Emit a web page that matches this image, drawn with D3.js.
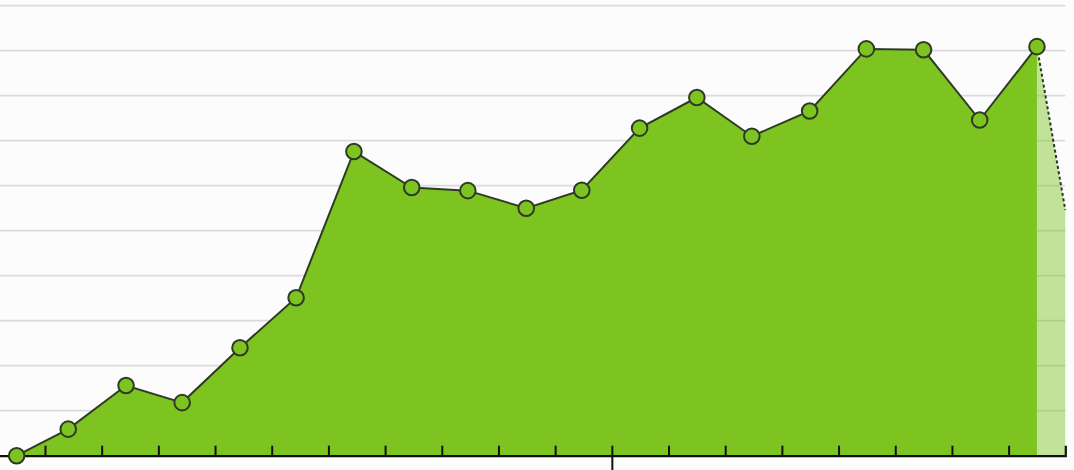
<!DOCTYPE html>
<html>
<head>
<meta charset="utf-8">
<script src="https://cdn.jsdelivr.net/npm/d3@7"></script>
<style>
    html, body { margin: 0; padding: 0; background: #fcfcfc; }
    svg { display: block; }
</style>
</head>
<body>
<div id="chart"></div>
<script>
// one value per period (gridline = 10 units)
const periods = ["P1", "P2", "P3", "P4", "P5", "P6", "P7", "P8", "P9", "P10",
                 "P11", "P12", "P13", "P14", "P15", "P16", "P17", "P18", "P19"];
// where each point sits along the period axis (the early ones fall a bit left of centre)
const positions = [0, 0.91, 1.93, 2.92, 3.94, 4.93, 5.95, 6.97, 7.96, 8.99,
                   9.97, 10.99, 12.0, 12.97, 13.99, 14.99, 16.0, 16.99, 18.0];
const values = [0, 5.9, 15.6, 11.8, 24.0, 35.1, 67.6, 59.6, 58.9, 55.0,
                59.0, 72.8, 79.6, 71.0, 76.6, 90.4, 90.2, 74.6, 90.9];
const projectedValue = 54.6;       // dotted estimate for the running period
const gridValues = [10, 20, 30, 40, 50, 60, 70, 80, 90, 100];
const majorBoundary = [10.5];      // boundary that gets the long tick

const width = 1074, height = 470;

const svg = d3.select("#chart").append("svg")
    .attr("width", width)
    .attr("height", height);

// the plot starts half a band off the left edge
const x = d3.scaleLinear()
    .domain([-0.5, periods.length - 0.5])
    .range([-11.7, 1065.3]);

const y = d3.scaleLinear()
    .domain([0, 100])
    .range([455.7, 5.7]);

const data = values.map((v, i) => ({ p: positions[i], v: v }));
const last = data[data.length - 1];
const projection = [last, { p: periods.length - 0.5, v: projectedValue }];

// gridlines
svg.append("g")
    .selectAll("line")
    .data(gridValues)
    .enter().append("line")
    .attr("x1", 0)
    .attr("x2", x(periods.length - 0.5))
    .attr("y1", d => y(d))
    .attr("y2", d => y(d))
    .attr("stroke", "#dadada")
    .attr("stroke-width", 1.7);

const area = d3.area()
    .x(d => x(d.p))
    .y0(y(0))
    .y1(d => y(d.v));

// projected part, light and see-through so the grid shows
svg.append("path")
    .datum(projection)
    .attr("d", area)
    .attr("fill", "#7dc421")
    .attr("fill-opacity", 0.45);

svg.append("path")
    .datum(data)
    .attr("d", area)
    .attr("fill", "#7dc421");

// x axis: ticks sit on band boundaries, pointing up
const boundaries = d3.range(periods.length - 1).map(i => i + 0.5);
const axis = svg.append("g")
    .attr("transform", `translate(0,${y(0)})`)
    .call(d3.axisBottom(x)
        .tickValues(boundaries)
        .tickSize(-10)
        .tickSizeOuter(-10)
        .tickFormat(""));

axis.select(".domain")
    .attr("stroke", "#111")
    .attr("stroke-width", 2.2);
axis.selectAll(".tick line")
    .attr("stroke", "#111")
    .attr("stroke-width", 2)
    .filter(d => majorBoundary.includes(d))
    .attr("y1", 15);

const line = d3.line()
    .x(d => x(d.p))
    .y(d => y(d.v));

svg.append("path")
    .datum(projection)
    .attr("d", line)
    .attr("fill", "none")
    .attr("stroke", "#2b3520")
    .attr("stroke-width", 2)
    .attr("stroke-dasharray", "3,2.5");

svg.append("path")
    .datum(data)
    .attr("d", line)
    .attr("fill", "none")
    .attr("stroke", "#2f3a24")
    .attr("stroke-width", 2);

svg.append("g")
    .selectAll("circle")
    .data(data)
    .enter().append("circle")
    .attr("cx", d => x(d.p))
    .attr("cy", d => y(d.v))
    .attr("r", 7.8)
    .attr("fill", "#7dc421")
    .attr("stroke", "#2f3a24")
    .attr("stroke-width", 2);
</script>
</body>
</html>
